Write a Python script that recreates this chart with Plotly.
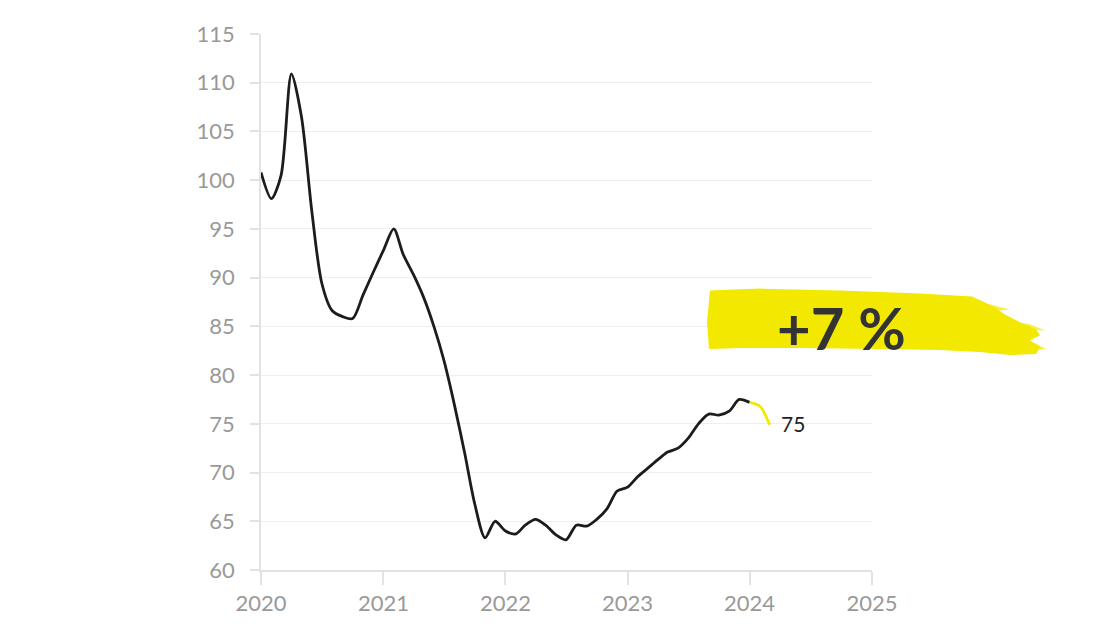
import pandas as pd
import plotly.graph_objects as go

# Monthly index values, Jan 2020 .. Mar 2024
values = [100.8, 98.1, 100.5, 110.9, 106.5, 96.8, 89.4, 86.6, 86.0, 85.8, 88.2, 90.5,
          92.8, 95.0, 92.4, 90.3, 88.0, 85.0, 81.5, 77.0, 72.0, 66.8, 63.3, 65.0,
          64.0, 63.7, 64.6, 65.2, 64.6, 63.6, 63.1, 64.6, 64.5, 65.2, 66.3, 68.1,
          68.5, 69.6, 70.4, 71.3, 72.1, 72.5, 73.5, 75.0, 76.0, 75.9, 76.3, 77.5,
          77.2, 76.8, 74.9]
dates = pd.date_range("2020-01-01", periods=len(values), freq="MS")
recent_from = 48          # index where the highlighted (yellow) segment starts
end_label = "75"
badge_text = "+7 %"
year_ticks = ["2020", "2021", "2022", "2023", "2024", "2025"]
y_ticks = list(range(60, 116, 5))

BLACK = "#1c1c1c"
YELLOW = "#f2e800"
GRID = "#eeeeee"
AXIS = "#e2e2e2"
TICKFONT = "#999999"
FONT = "Lato"

fig = go.Figure()
fig.add_trace(go.Scatter(x=dates[:recent_from + 1], y=values[:recent_from + 1], mode="lines",
                         line=dict(color=BLACK, width=2.8, shape="spline", smoothing=0.8),
                         hoverinfo="skip", showlegend=False))
fig.add_trace(go.Scatter(x=dates[recent_from:], y=values[recent_from:], mode="lines",
                         line=dict(color=YELLOW, width=2.8, shape="spline", smoothing=0.8),
                         hoverinfo="skip", showlegend=False))

# Page offset (browser body margin) and plot-area geometry in pixels
OFF = 8
L, R, T, B = 261, 872, 29, 570
W, H = R - L, B - T
def px(x, y):
    return (x - L) / W, (B - y) / H

def path(points):
    pts = [px(x, y) for x, y in points]
    return "M " + " L ".join(f"{a:.4f},{b:.4f}" for a, b in pts) + " Z"

brush_main = [(710, 288), (760, 286), (840, 288), (920, 291), (972, 294), (985, 300),
              (995, 305), (1005, 312), (1020, 320), (1036, 327), (1040, 333), (1030, 338),
              (1040, 345), (1036, 352), (1010, 353), (980, 350), (940, 348), (880, 347),
              (800, 346), (740, 346), (709, 347), (707, 320)]
streaks = [
    [(960, 300), (990, 302), (1010, 307), (990, 309), (960, 306)],
    [(990, 316), (1030, 322), (1045, 328), (1025, 328), (995, 322)],
    [(995, 338), (1035, 341), (1046, 347), (1030, 349), (1000, 344)],
]
shapes = [dict(type="path", path=path(brush_main), xref="paper", yref="paper",
               fillcolor=YELLOW, line=dict(width=0), layer="above")]
for s in streaks:
    shapes.append(dict(type="path", path=path(s), xref="paper", yref="paper",
                       fillcolor=YELLOW, opacity=0.7, line=dict(width=0), layer="above"))

bx, by = px(841, 325)
annotations = [
    dict(x=bx, y=by, xref="paper", yref="paper", text=f"<b>{badge_text}</b>", showarrow=False,
         font=dict(family=FONT, size=58, color="#333333"), xanchor="center", yanchor="middle"),
    dict(x=dates[-1], y=values[-1], xref="x", yref="y", text=end_label, showarrow=False,
         xanchor="left", yanchor="middle", xshift=9, yshift=1,
         font=dict(family=FONT, size=21, color="#222222")),
]

fig.update_layout(
    width=1100, height=634,
    margin=dict(l=L - OFF, r=1100 - R + OFF, t=T - OFF, b=634 - B + OFF),
    paper_bgcolor="white", plot_bgcolor="white",
    shapes=shapes, annotations=annotations,
    font=dict(family=FONT),
    xaxis=dict(type="date", range=["2020-01-01", "2025-01-01"],
               tickvals=[f"{y}-01-01" for y in year_ticks], ticktext=year_ticks,
               showgrid=False, zeroline=False, showline=True, linecolor=AXIS, linewidth=1.5,
               ticks="outside", ticklen=13, tickcolor=AXIS, tickwidth=1.5,
               tickfont=dict(size=22, color=TICKFONT, family=FONT), ticklabelstandoff=0),
    yaxis=dict(range=[60, 115], tickvals=y_ticks, showgrid=True, gridcolor=GRID, gridwidth=1,
               zeroline=False, showline=True, linecolor=AXIS, linewidth=1.5,
               ticks="outside", ticklen=9, tickcolor=AXIS, tickwidth=1.5,
               tickfont=dict(size=22, color=TICKFONT, family=FONT), ticklabelstandoff=11),
)

fig.write_html("out.html")
